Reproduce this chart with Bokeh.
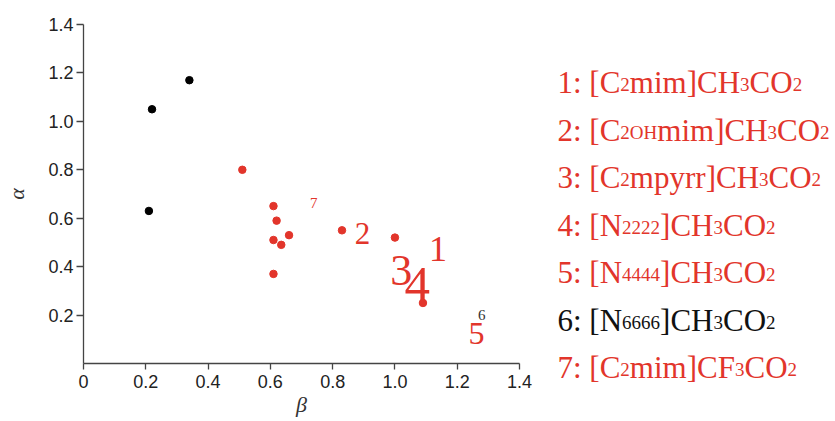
import re
from bokeh.plotting import figure
from bokeh.models import ColumnDataSource, FixedTicker, Range1d
from bokeh.layouts import row
from bokeh.core.properties import value
from bokeh.embed import file_html
from bokeh.resources import INLINE

# ---------------- data ----------------
black_beta = [0.34, 0.22, 0.21]
black_alpha = [1.17, 1.05, 0.63]

red_beta = [0.51, 0.61, 0.62, 0.61, 0.635, 0.66, 0.61, 0.83, 1.00, 1.09]
red_alpha = [0.80, 0.65, 0.59, 0.51, 0.49, 0.53, 0.37, 0.55, 0.52, 0.25]

num_text = ["7", "2", "1", "3", "4", "6", "5"]
num_beta = [0.739, 0.896, 1.138, 1.020, 1.072, 1.279, 1.262]
num_alpha = [0.662, 0.535, 0.474, 0.384, 0.325, 0.202, 0.124]
num_size = ["15px", "31px", "36px", "44px", "51px", "15px", "32px"]
num_color = ["#e2352b", "#e2352b", "#e2352b", "#e2352b", "#e2352b", "#333333", "#e2352b"]

x_ticks = [0, 0.2, 0.4, 0.6, 0.8, 1.0, 1.2, 1.4]
x_tick_labels = ["0", "0.2", "0.4", "0.6", "0.8", "1.0", "1.2", "1.4"]
y_ticks = [0.2, 0.4, 0.6, 0.8, 1.0, 1.2, 1.4]
y_tick_labels = ["0.2", "0.4", "0.6", "0.8", "1.0", "1.2", "1.4"]

legend_entries = [
    "1: [C_{2}mim]CH_{3}CO_{2}",
    "2: [C_{2OH}mim]CH_{3}CO_{2}",
    "3: [C_{2}mpyrr]CH_{3}CO_{2}",
    "4: [N_{2222}]CH_{3}CO_{2}",
    "5: [N_{4444}]CH_{3}CO_{2}",
    "6: [N_{6666}]CH_{3}CO_{2}",
    "7: [C_{2}mim]CF_{3}CO_{2}",
]
legend_colors = ["#e2352b", "#e2352b", "#e2352b", "#e2352b", "#e2352b", "#111111", "#e2352b"]

RED = "#e2352b"

# ---------------- main plot ----------------
p = figure(width=540, height=420, output_backend="svg", toolbar_location=None,
           x_range=Range1d(0, 1.4), y_range=Range1d(0, 1.4),
           min_border_left=83, min_border_right=21, min_border_top=24, min_border_bottom=57)
p.outline_line_color = None
p.xgrid.visible = False
p.ygrid.visible = False
p.background_fill_color = "white"

p.scatter(black_beta, black_alpha, size=7.5, color="black")
p.scatter(red_beta, red_alpha, size=7.5, color=RED)

nsrc = ColumnDataSource(dict(x=num_beta, y=num_alpha, t=num_text, s=num_size, c=num_color))
p.text(x="x", y="y", text="t", text_font_size="s", text_color="c", source=nsrc,
       text_align="center", text_baseline="middle",
       text_font=value("Liberation Serif"))

for ax in (p.xaxis[0], p.yaxis[0]):
    ax.axis_line_color = "#444444"
    ax.axis_line_width = 1.3
    ax.major_tick_line_color = "#444444"
    ax.major_tick_line_width = 1.3
    ax.major_tick_in = 0
    ax.minor_tick_line_color = None
    ax.major_label_text_font = "Liberation Sans"
    ax.major_label_text_font_size = "18px"
    ax.major_label_text_color = "#222222"
    ax.axis_label_text_font = "Liberation Serif"
    ax.axis_label_text_font_style = "italic"
    ax.axis_label_text_font_size = "22px"
    ax.axis_label_text_color = "#333333"

p.xaxis.ticker = FixedTicker(ticks=x_ticks)
p.xaxis.major_label_overrides = {t: l for t, l in zip(x_ticks, x_tick_labels)}
p.yaxis.ticker = FixedTicker(ticks=y_ticks)
p.yaxis.major_label_overrides = {t: l for t, l in zip(y_ticks, y_tick_labels)}

p.xaxis.major_tick_out = 6
p.xaxis.major_label_standoff = 5
p.xaxis.axis_label = "β"
p.xaxis.axis_label_standoff = 1

p.yaxis.major_tick_out = 7
p.yaxis.major_label_standoff = 3
p.yaxis.axis_label = "α"
p.yaxis.axis_label_standoff = 16

# ---------------- legend panel ----------------
LW, LH = 294, 420
leg = figure(width=LW, height=LH, output_backend="svg", toolbar_location=None,
             x_range=Range1d(0, LW), y_range=Range1d(LH, 0),
             x_axis_type=None, y_axis_type=None, min_border=0)
leg.outline_line_color = None
leg.xgrid.visible = False
leg.ygrid.visible = False

# keep each figure's frame independent inside the row
for fig in (p, leg):
    if "frame_align" in fig.properties():
        fig.frame_align = False

# Times-compatible advance widths (per 1000 em)
W = {c: 500 for c in "0123456789"}
W.update({":": 278, " ": 250, "[": 333, "]": 333, "C": 667, "H": 722, "O": 722,
          "N": 722, "F": 556, "m": 778, "i": 278, "p": 500, "y": 500, "r": 333})

MAIN, SUB = 31, 19
x0, y0, dy = 17, 82, 47.55
xs, ys, ts, ss, cs = [], [], [], [], []
for i, (entry, col) in enumerate(zip(legend_entries, legend_colors)):
    x = x0
    base = y0 + dy * i
    for part in re.split(r"(_\{[^}]*\})", entry):
        if not part:
            continue
        if part.startswith("_{"):
            txt, size, yy = part[2:-1], SUB, base + 2
        else:
            txt, size, yy = part, MAIN, base
        xs.append(x); ys.append(yy); ts.append(txt); ss.append(f"{size}px"); cs.append(col)
        x += sum(W.get(c, 600) for c in txt) * size / 1000.0

lsrc = ColumnDataSource(dict(x=xs, y=ys, t=ts, s=ss, c=cs))
leg.text(x="x", y="y", text="t", text_font_size="s", text_color="c", source=lsrc,
         text_align="left", text_baseline="alphabetic",
         text_font=value("Liberation Serif"))

layout = row(p, leg)
open("out.html", "w").write(file_html(layout, INLINE))
